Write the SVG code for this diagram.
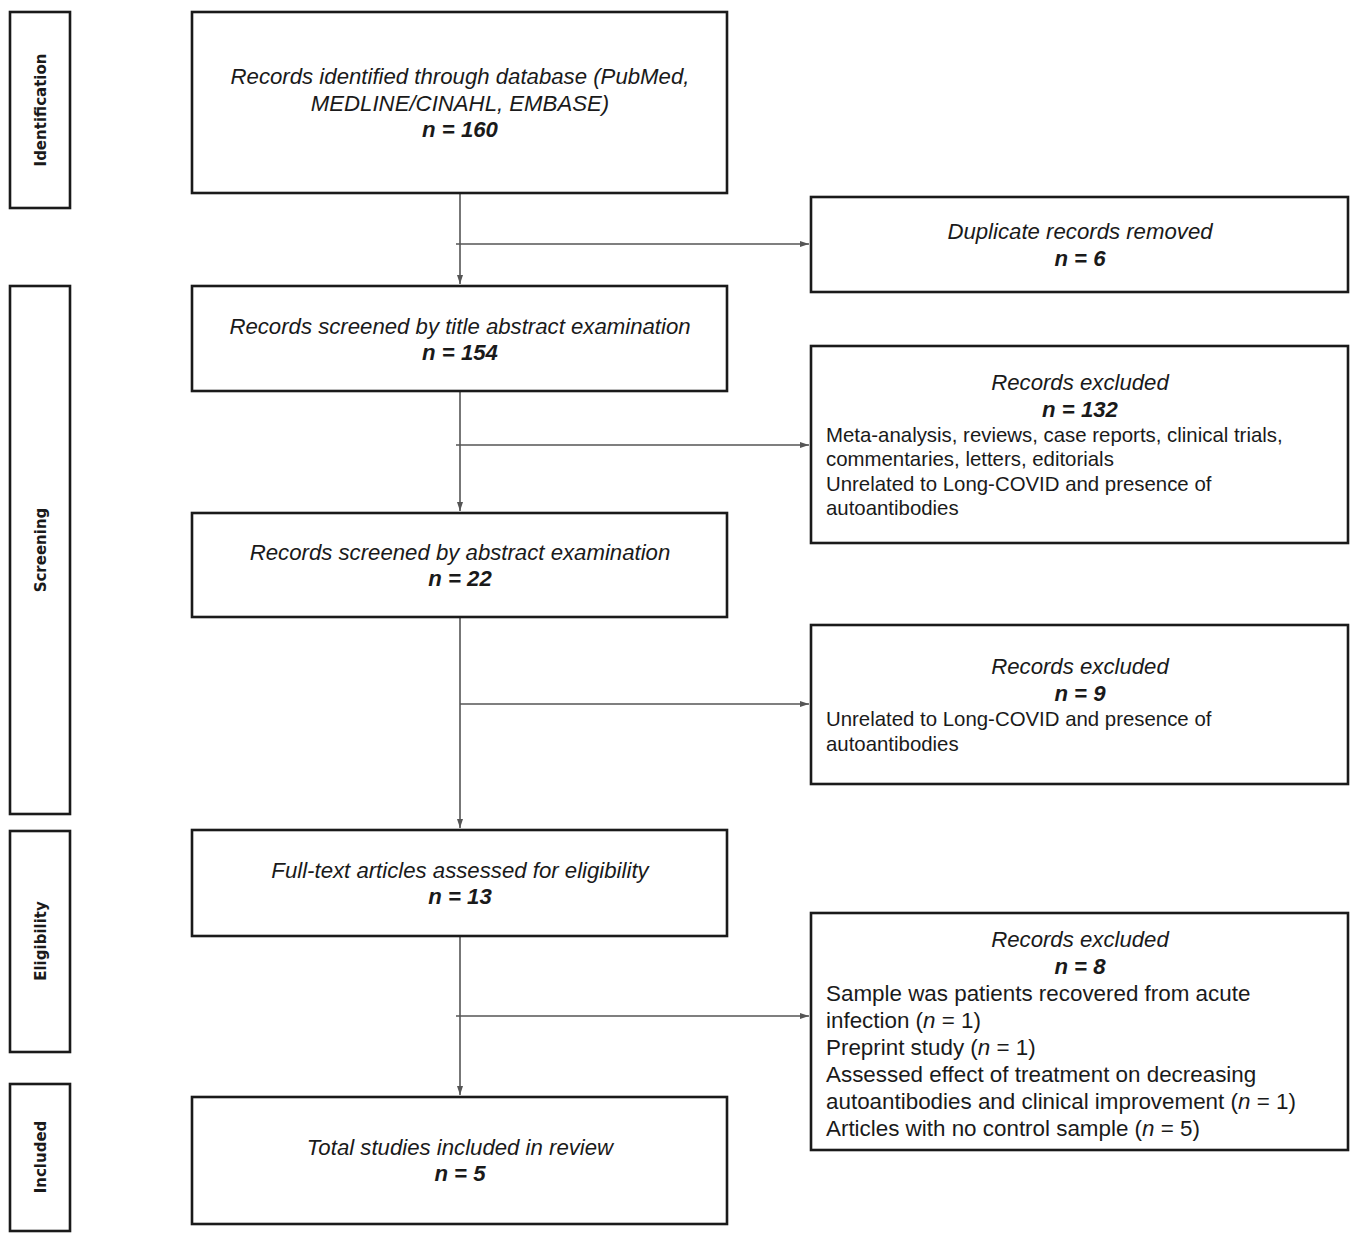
<svg xmlns="http://www.w3.org/2000/svg" width="1358" height="1248" viewBox="0 0 1358 1248">
<style>
.box{fill:#fff;stroke:#1a1a1a;stroke-width:2.6}
.t{font-family:"Liberation Sans",Arial,sans-serif;font-size:20.4px;fill:#1a1a1a}
.h{font-size:22.2px}
.l{font-size:22.4px}
.i{font-style:italic}
.b{font-weight:bold}
.c{text-anchor:middle}
.side{font-family:"DejaVu Sans",sans-serif;font-size:15px;font-weight:bold;fill:#1a1a1a;text-anchor:middle}
.con{stroke:#555;stroke-width:1.6;fill:none}
</style>
<defs>
<marker id="ah" markerWidth="10" markerHeight="8" refX="9" refY="4" orient="auto" markerUnits="userSpaceOnUse">
<path d="M0,1 L9,4 L0,7 Z" fill="#555"/>
</marker>
</defs>
<rect width="1358" height="1248" fill="#fff"/>
<g id="phase-identification"><rect class="box" x="10" y="12" width="60" height="196"/><text class="side" transform="translate(46,110) rotate(-90)">Identification</text></g>
<g id="phase-screening"><rect class="box" x="10" y="286" width="60" height="528"/><text class="side" transform="translate(46,550) rotate(-90)">Screening</text></g>
<g id="phase-eligibility"><rect class="box" x="10" y="831" width="60" height="221"/><text class="side" transform="translate(46,941) rotate(-90)">Eligibility</text></g>
<g id="phase-included"><rect class="box" x="10" y="1084" width="60" height="147"/><text class="side" transform="translate(46,1157) rotate(-90)">Included</text></g>

<g id="connectors">
<line class="con" x1="460" y1="193" x2="460" y2="284" marker-end="url(#ah)"/>
<line class="con" x1="456" y1="244" x2="809" y2="244" marker-end="url(#ah)"/>
<line class="con" x1="460" y1="391" x2="460" y2="511" marker-end="url(#ah)"/>
<line class="con" x1="456" y1="445" x2="809" y2="445" marker-end="url(#ah)"/>
<line class="con" x1="460" y1="617" x2="460" y2="828" marker-end="url(#ah)"/>
<line class="con" x1="460" y1="704" x2="809" y2="704" marker-end="url(#ah)"/>
<line class="con" x1="460" y1="936" x2="460" y2="1095" marker-end="url(#ah)"/>
<line class="con" x1="456" y1="1016" x2="809" y2="1016" marker-end="url(#ah)"/>
</g>

<g id="n1"><rect class="box" x="192" y="12" width="535" height="181"/>
<text class="t h i c" x="460" y="84">Records identified through database (PubMed,</text>
<text class="t h i c" x="460" y="111">MEDLINE/CINAHL, EMBASE)</text>
<text class="t h i b c" x="460" y="137">n = 160</text></g>

<g id="n2"><rect class="box" x="192" y="286" width="535" height="105"/>
<text class="t h i c" x="460" y="334">Records screened by title abstract examination</text>
<text class="t h i b c" x="460" y="360">n = 154</text></g>

<g id="n3"><rect class="box" x="192" y="513" width="535" height="104"/>
<text class="t h i c" x="460" y="560">Records screened by abstract examination</text>
<text class="t h i b c" x="460" y="586">n = 22</text></g>

<g id="n4"><rect class="box" x="192" y="830" width="535" height="106"/>
<text class="t h i c" x="460" y="878">Full-text articles assessed for eligibility</text>
<text class="t h i b c" x="460" y="904">n = 13</text></g>

<g id="n5"><rect class="box" x="192" y="1097" width="535" height="127"/>
<text class="t h i c" x="460" y="1155">Total studies included in review</text>
<text class="t h i b c" x="460" y="1181">n = 5</text></g>

<g id="r1"><rect class="box" x="811" y="197" width="537" height="95"/>
<text class="t h i c" x="1080" y="239">Duplicate records removed</text>
<text class="t h i b c" x="1080" y="266">n = 6</text></g>

<g id="r2"><rect class="box" x="811" y="346" width="537" height="197"/>
<text class="t h i c" x="1080" y="390">Records excluded</text>
<text class="t h i b c" x="1080" y="417">n = 132</text>
<text class="t" x="826" y="442">Meta-analysis, reviews, case reports, clinical trials,</text>
<text class="t" x="826" y="466">commentaries, letters, editorials</text>
<text class="t" x="826" y="491">Unrelated to Long-COVID and presence of</text>
<text class="t" x="826" y="515">autoantibodies</text></g>

<g id="r3"><rect class="box" x="811" y="625" width="537" height="159"/>
<text class="t h i c" x="1080" y="674">Records excluded</text>
<text class="t h i b c" x="1080" y="701">n = 9</text>
<text class="t" x="826" y="726">Unrelated to Long-COVID  and presence of</text>
<text class="t" x="826" y="751">autoantibodies</text></g>

<g id="r4"><rect class="box" x="811" y="913" width="537" height="237"/>
<text class="t h i c" x="1080" y="947">Records excluded</text>
<text class="t h i b c" x="1080" y="974">n = 8</text>
<text class="t l" x="826" y="1001">Sample was patients recovered from acute</text>
<text class="t l" x="826" y="1028">infection (<tspan class="i">n</tspan> = 1)</text>
<text class="t l" x="826" y="1055">Preprint study (<tspan class="i">n</tspan> = 1)</text>
<text class="t l" x="826" y="1082">Assessed effect of treatment on decreasing</text>
<text class="t l" x="826" y="1109">autoantibodies and clinical improvement (<tspan class="i">n</tspan> = 1)</text>
<text class="t l" x="826" y="1136">Articles with no control sample (<tspan class="i">n</tspan> = 5)</text></g>
</svg>
